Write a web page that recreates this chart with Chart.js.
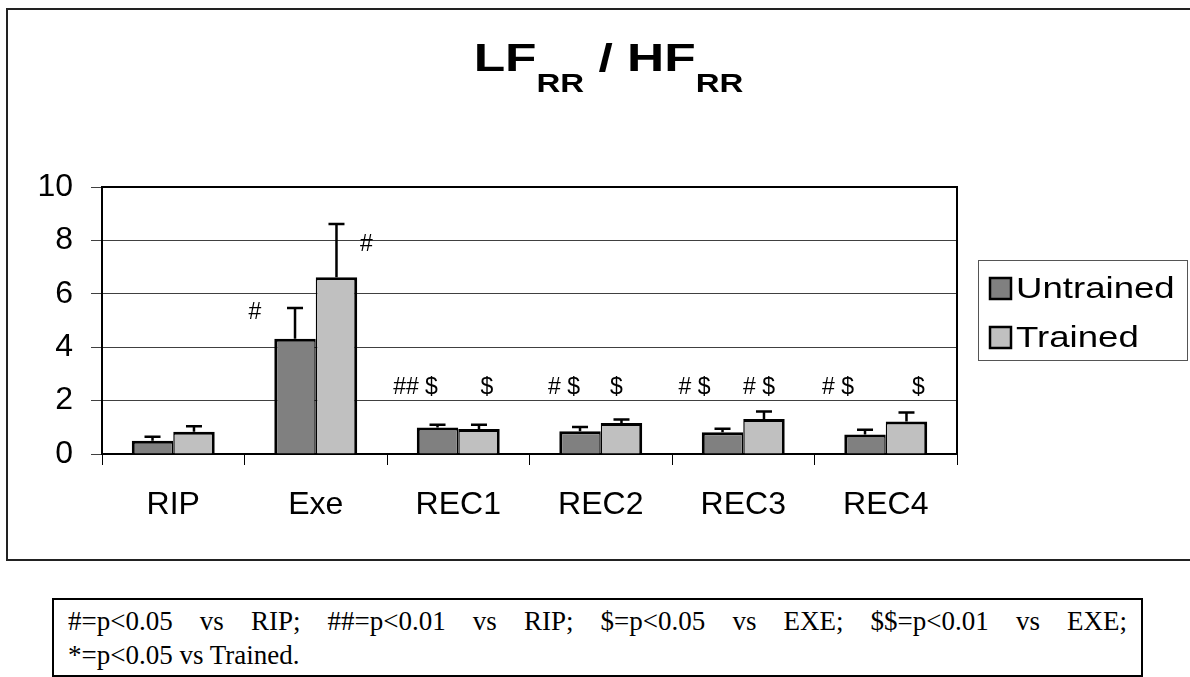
<!DOCTYPE html>
<html>
<head>
<meta charset="utf-8">
<script src="https://cdn.jsdelivr.net/npm/chart.js@4.4.0/dist/chart.umd.min.js"></script>
<style>
html,body{margin:0;padding:0;background:#fff;}
#wrap{position:relative;width:1190px;height:677px;overflow:hidden;background:#fff;}
#frame{position:absolute;left:6px;top:8px;width:1220px;height:553px;border:2px solid #222;box-sizing:border-box;}
#cv{position:absolute;left:0;top:0;}
#note{position:absolute;left:52px;top:598px;width:1091px;height:79px;border:2px solid #000;box-sizing:border-box;padding:4px 14px 0 14px;font-family:"Liberation Serif","Times New Roman",serif;font-size:27px;line-height:34px;color:#000;}
#note .l1{text-align:justify;text-align-last:justify;}
#note .l2{text-align:left;}
</style>
</head>
<body>
<div id="wrap">
  <div id="frame"></div>
  <canvas id="cv" width="1190" height="560"></canvas>
  <div id="note">
    <div class="l1">#=p&lt;0.05 vs RIP; ##=p&lt;0.01 vs RIP; $=p&lt;0.05 vs EXE; $$=p&lt;0.01 vs EXE;</div>
    <div class="l2">*=p&lt;0.05 vs Trained.</div>
  </div>
</div>
<script>
// ---- data ----
const categories = ['RIP', 'Exe', 'REC1', 'REC2', 'REC3', 'REC4'];
const seriesNames = ['Untrained', 'Trained'];
const untrained = [0.50, 4.32, 0.99, 0.85, 0.81, 0.73];
const untrainedErr = [0.15, 1.15, 0.11, 0.16, 0.14, 0.18];
const trained = [0.83, 6.62, 0.94, 1.16, 1.31, 1.22];
const trainedErr = [0.21, 1.99, 0.16, 0.13, 0.28, 0.33];
const untrainedSig = ['', '#', '## $', '# $', '# $', '# $'];
const trainedSig = ['', '#', '$', '$', '# $', '$'];
const yTicks = [0, 2, 4, 6, 8, 10];

// ---- layout / style ----
const SANS = '"Liberation Sans", Arial, Helvetica, sans-serif';
const sigPlace = [
  [null, {dx: -40, y: 5.28}, {dx: -22, y: 2.47}, {dx: -16, y: 2.47}, {dx: -28, y: 2.47}, {dx: -27, y: 2.47}],
  [null, {dx: 30, y: 7.85}, {dx: 8, y: 2.47}, {dx: -5, y: 2.47}, {dx: -5, y: 2.47}, {dx: 12, y: 2.47}]
];

const errorBars = {
  id: 'errorBars',
  afterDatasetsDraw(chart) {
    const ctx = chart.ctx, ys = chart.scales.y;
    const errs = [untrainedErr, trainedErr];
    chart.data.datasets.forEach((ds, di) => {
      const meta = chart.getDatasetMeta(di);
      meta.data.forEach((bar, i) => {
        const base = ys.getPixelForValue(ds.data[i]);
        const top = ys.getPixelForValue(ds.data[i] + errs[di][i]);
        ctx.save();
        ctx.strokeStyle = '#000';
        ctx.lineWidth = 2.5;
        ctx.beginPath();
        ctx.moveTo(bar.x, base);
        ctx.lineTo(bar.x, top);
        ctx.moveTo(bar.x - 8, top);
        ctx.lineTo(bar.x + 8, top);
        ctx.stroke();
        ctx.restore();
      });
    });
  }
};

const sigLabels = {
  id: 'sigLabels',
  afterDatasetsDraw(chart) {
    const ctx = chart.ctx, ys = chart.scales.y;
    const sigs = [untrainedSig, trainedSig];
    ctx.save();
    ctx.fillStyle = '#000';
    ctx.font = '23px ' + SANS;
    ctx.textAlign = 'center';
    ctx.textBaseline = 'middle';
    chart.data.datasets.forEach((ds, di) => {
      const meta = chart.getDatasetMeta(di);
      meta.data.forEach((bar, i) => {
        const t = sigs[di][i];
        const p = sigPlace[di][i];
        if (!t || !p) return;
        ctx.fillText(t, bar.x + p.dx, ys.getPixelForValue(p.y));
      });
    });
    ctx.restore();
  }
};

const plotFrame = {
  id: 'plotFrame',
  afterDatasetsDraw(chart) {
    const a = chart.chartArea, ctx = chart.ctx;
    ctx.save();
    ctx.strokeStyle = '#000';
    ctx.lineWidth = 2;
    ctx.beginPath();
    ctx.moveTo(a.left, a.top);
    ctx.lineTo(a.right, a.top);
    ctx.lineTo(a.right, a.bottom);
    ctx.stroke();
    ctx.restore();
  }
};

const titlePlugin = {
  id: 'subTitle',
  afterDraw(chart) {
    const ctx = chart.ctx;
    const sx = 1.32;
    const parts = [
      {t: 'LF', s: 39, dy: 0}, {t: 'RR', s: 25, dy: 21},
      {t: ' / HF', s: 39, dy: 0}, {t: 'RR', s: 25, dy: 21}
    ];
    ctx.save();
    let total = 0;
    parts.forEach(p => { ctx.font = 'bold ' + p.s + 'px ' + SANS; p.w = ctx.measureText(p.t).width; total += p.w; });
    const cx = 608.5;
    ctx.translate(cx - total * sx / 2, 71);
    ctx.scale(sx, 1);
    ctx.fillStyle = '#000';
    ctx.textBaseline = 'alphabetic';
    let x = 0;
    parts.forEach(p => {
      ctx.font = 'bold ' + p.s + 'px ' + SANS;
      ctx.fillText(p.t, x, p.dy);
      x += p.w;
    });
    ctx.restore();
  }
};

const legendBox = {
  id: 'legendBox',
  afterDraw(chart) {
    const ctx = chart.ctx;
    ctx.save();
    ctx.strokeStyle = '#555';
    ctx.lineWidth = 1;
    ctx.strokeRect(978.5, 260.5, 209, 100);
    chart.data.datasets.forEach((ds, i) => {
      const top = 278 + i * 49;
      ctx.fillStyle = ds.backgroundColor;
      ctx.fillRect(990, top, 21, 21);
      ctx.strokeStyle = '#000';
      ctx.lineWidth = 2.5;
      ctx.strokeRect(990, top, 21, 21);
      ctx.save();
      ctx.translate(1016, top + 20);
      ctx.scale(1.22, 1);
      ctx.fillStyle = '#000';
      ctx.font = '30px ' + SANS;
      ctx.textBaseline = 'alphabetic';
      ctx.fillText(ds.label, 0, 0);
      ctx.restore();
    });
    ctx.restore();
  }
};

new Chart(document.getElementById('cv'), {
  type: 'bar',
  data: {
    labels: categories,
    datasets: [
      {label: seriesNames[0], data: untrained, backgroundColor: '#808080', borderColor: '#000',
       borderWidth: {top: 3, left: 3, right: 1.5, bottom: 0}, borderSkipped: false,
       categoryPercentage: 0.582, barPercentage: 1.0},
      {label: seriesNames[1], data: trained, backgroundColor: '#c0c0c0', borderColor: '#000',
       borderWidth: {top: 3, left: 1.5, right: 3, bottom: 0}, borderSkipped: false,
       categoryPercentage: 0.582, barPercentage: 1.0}
    ]
  },
  options: {
    responsive: false,
    animation: false,
    layout: {padding: {top: 187, right: 233, left: 0, bottom: 0}},
    plugins: {legend: {display: false}, title: {display: false}, tooltip: {enabled: false}},
    scales: {
      x: {
        offset: true,
        grid: {offset: true, drawOnChartArea: false, tickLength: 11, color: '#000', lineWidth: 1},
        border: {color: '#000', width: 2},
        ticks: {color: '#000', font: {family: SANS, size: 32}, padding: 21, maxRotation: 0},
        afterFit(s) { s.height = 106; }
      },
      y: {
        min: 0, max: 10,
        afterBuildTicks(s) { s.ticks = yTicks.map(v => ({value: v})); },
        grid: {color: '#404040', lineWidth: 1, tickLength: 11, tickColor: '#404040'},
        border: {color: '#000', width: 2},
        ticks: {color: '#000', font: {family: SANS, size: 32}, padding: 18},
        afterFit(s) { s.width = 102; }
      }
    }
  },
  plugins: [errorBars, sigLabels, plotFrame, titlePlugin, legendBox]
});
</script>
</body>
</html>
